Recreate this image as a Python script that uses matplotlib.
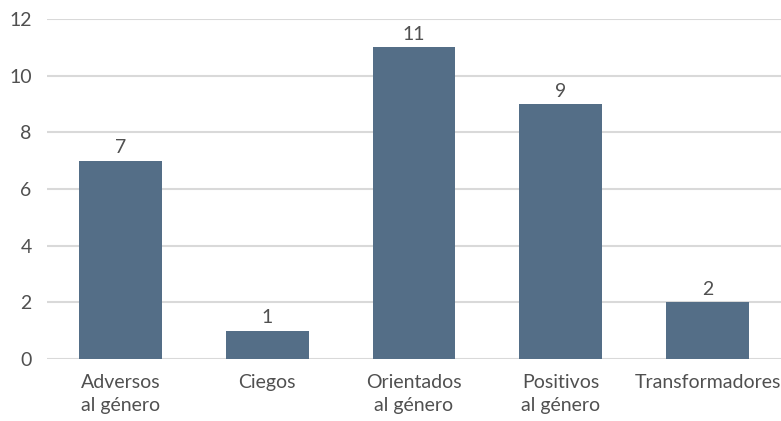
import matplotlib
matplotlib.use("Agg")
import matplotlib.pyplot as plt

categories = ["Adversos\nal género", "Ciegos", "Orientados\nal género", "Positivos\nal género", "Transformadores"]
values = [7, 1, 11, 9, 2]
yticks = [0, 2, 4, 6, 8, 10, 12]

plt.rcParams["font.family"] = ["Lato", "DejaVu Sans"]

fig = plt.figure(figsize=(7.81, 4.21), dpi=100)
ax = fig.add_axes([47 / 781, 62 / 421, 734 / 781, 340 / 421])

x = range(len(categories))
bars = ax.bar(x, values, width=0.565, color="#546E87", zorder=3)
for b, v in zip(bars, values):
    ax.text(b.get_x() + b.get_width() / 2, v + 0.15, str(v), ha="center", va="bottom",
            fontsize=14, color="#505050")

ax.set_xlim(-0.5, len(categories) - 0.5)
ax.set_ylim(0, 12)
ax.set_yticks(yticks)
ax.set_xticks(list(x))
ax.set_xticklabels(categories, fontsize=14, color="#505050", linespacing=1.4)
ax.tick_params(axis="y", labelsize=14, labelcolor="#505050", length=0, pad=11)
ax.tick_params(axis="x", length=0, pad=11)
ax.grid(axis="y", color="#D9D9D9", linewidth=1.5, zorder=0)
ax.set_axisbelow(True)
for s in ax.spines.values():
    s.set_visible(False)

fig.savefig("out.png", dpi=100)
